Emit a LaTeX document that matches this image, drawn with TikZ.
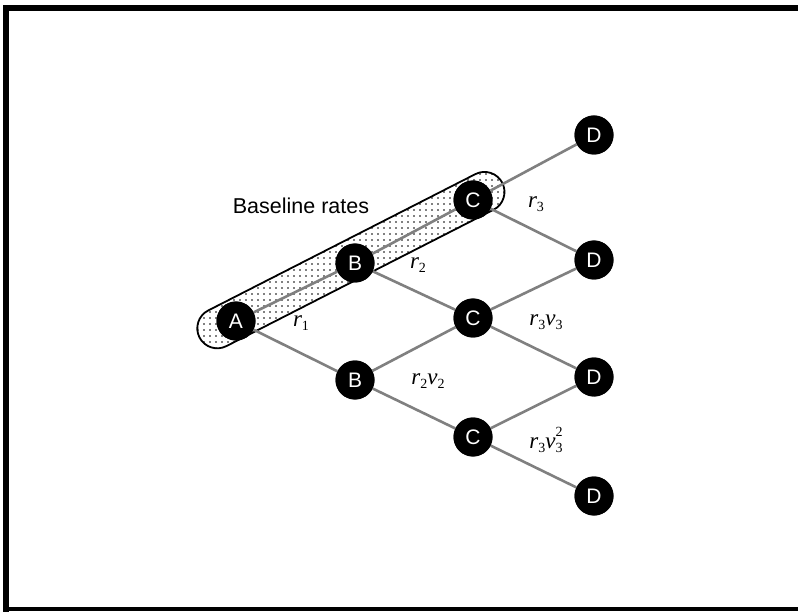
\documentclass[tikz,border=0pt]{standalone}
\usepackage{fontspec}
\setmainfont{Liberation Sans}
\newfontfamily\tms{Liberation Serif}
\usetikzlibrary{patterns.meta}
\newcommand{\rlab}[1]{{\tms\itshape #1}}
\newcommand{\lsub}[1]{\raisebox{-0.35ex}{\fontsize{14}{14}\selectfont\tms\upshape #1}}
\begin{document}
\begin{tikzpicture}[x=1pt,y=-1pt,
  vtx/.style={circle,fill=black,text=white,minimum size=39pt,inner sep=0pt,font=\fontsize{21}{21}\selectfont},
  edge/.style={draw=black!50,line width=2.6pt},
  lab/.style={font=\fontsize{23}{23}\selectfont,inner sep=0pt}]
\useasboundingbox (0,0) rectangle (798,612);
\fill[white] (0,0) rectangle (798,612);
% frame
\draw[line width=6pt] (6,612) -- (6,8) -- (798,8);
\draw[line width=4pt] (4,609) -- (798,609);
% capsule
\begin{scope}[shift={(236,321)},rotate=27.04]
  \draw[line width=1.8pt,pattern={Dots[distance=6pt,radius=0.9pt]},rounded corners=20pt]
    (-40,-22) rectangle (300,18);
\end{scope}
\node[vtx] (A) at (236,321) {A};
\node[vtx] (B1) at (355,263) {B};
\node[vtx] (C1) at (473,200) {C};
\node[vtx] (D1) at (594,135) {D};
\node[vtx] (D2) at (594,260) {D};
\node[vtx] (C2) at (473,318) {C};
\node[vtx] (B2) at (355,380) {B};
\node[vtx] (D3) at (594,377) {D};
\node[vtx] (C3) at (473,437) {C};
\node[vtx] (D4) at (594,496) {D};
\foreach \a/\b in {A/B1,B1/C1,C1/D1,C1/D2,B1/C2,C2/D2,C2/D3,A/B2,B2/C2,B2/C3,C3/D3,C3/D4}
  \path[edge] (\a) -- (\b);
% redraw nodes on top
\foreach \n/\t in {A/A,B1/B,C1/C,D1/D,D2/D,C2/C,B2/B,D3/D,C3/C,D4/D}
  \node[vtx] at (\n) {\t};
\node[font=\fontsize{21.5}{21.5}\selectfont] (bl) at (301,206) {Baseline rates};
\node[lab] (l1) at (301,323) {\rlab{r}\lsub{1}};
\node[lab] (l2) at (418,265) {\rlab{r}\lsub{2}};
\node[lab] (l3) at (536,204) {\rlab{r}\lsub{3}};
\node[lab] (l4) at (546,322) {\rlab{r}\lsub{3}\rlab{v}\lsub{3}};
\node[lab] (l5) at (428,381) {\rlab{r}\lsub{2}\rlab{v}\lsub{2}};
\node[lab] (l6) at (546,440) {\rlab{r}\lsub{3}\rlab{v}\rlap{\lsub{3}}\raisebox{1.0ex}{\fontsize{14}{14}\selectfont\tms\upshape 2}};
\end{tikzpicture}
\end{document}
